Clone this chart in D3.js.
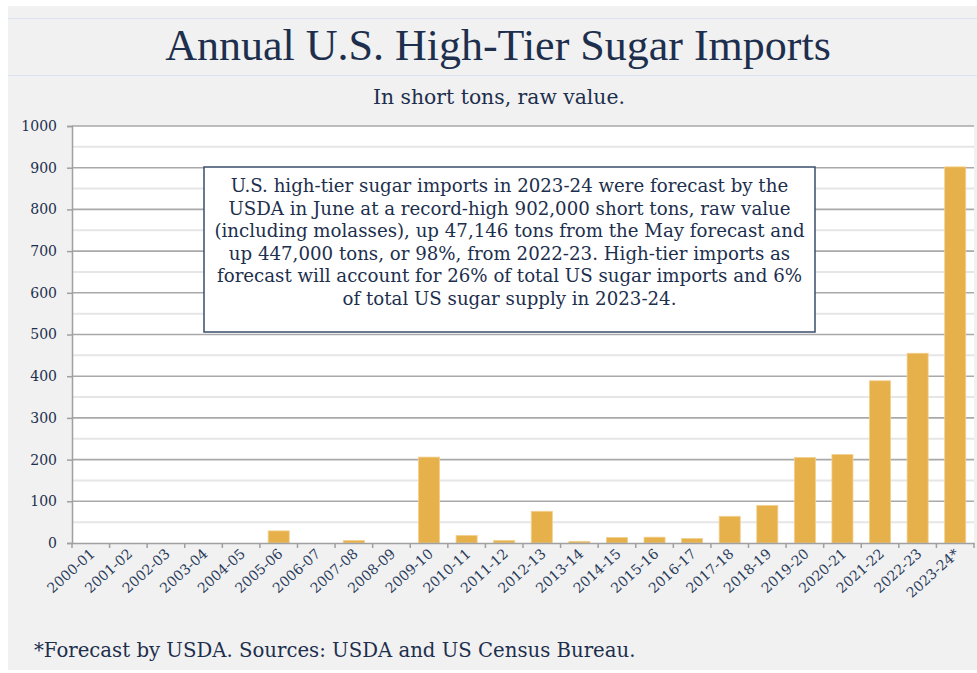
<!DOCTYPE html>
<html><head><meta charset="utf-8">
<script src="https://cdn.jsdelivr.net/npm/d3@7"></script>
<style>html,body{margin:0;padding:0;background:#fff;}svg{display:block;}</style>
</head><body>
<svg id="chart" width="977" height="673"></svg>
<script>
const categories = ["2000-01","2001-02","2002-03","2003-04","2004-05","2005-06","2006-07","2007-08","2008-09","2009-10","2010-11","2011-12","2012-13","2013-14","2014-15","2015-16","2016-17","2017-18","2018-19","2019-20","2020-21","2021-22","2022-23","2023-24*"];
const imports = [0,0,0,0,0,29,0,6,0,206,18,6,76,4,13,14,11,64,90,205,212,389,455,902];
const yTicks = [0,100,200,300,400,500,600,700,800,900,1000];
const titleText = "Annual U.S. High-Tier Sugar Imports";
const subtitleText = "In short tons, raw value.";
const noteLines = [
 "U.S. high-tier sugar imports in 2023-24 were forecast by the",
 "USDA in June at a record-high 902,000 short tons, raw value",
 "(including molasses), up 47,146 tons from the May forecast and",
 "up 447,000 tons, or 98%, from 2022-23. High-tier imports as",
 "forecast will account for 26% of total US sugar imports and 6%",
 "of total US sugar supply in 2023-24."
];
const footnote = "*Forecast by USDA. Sources: USDA and US Census Bureau.";

const svg = d3.select("#chart");
const navy = "#1d2f4d";
const serif = "'Liberation Serif',serif";
const wide = "'DejaVu Serif',serif";

function fit(sel, target){
  const w = sel.node().getComputedTextLength();
  const fs = parseFloat(sel.attr("font-size"));
  return fs*target/w;
}

svg.append("rect").attr("x",8).attr("y",6).attr("width",969).attr("height",664).attr("fill","#f1f1f1");
svg.append("line").attr("x1",8).attr("x2",977).attr("y1",18.5).attr("y2",18.5).attr("stroke","#dce3f0").attr("stroke-width",1);
svg.append("line").attr("x1",8).attr("x2",977).attr("y1",75.5).attr("y2",75.5).attr("stroke","#dce3f0").attr("stroke-width",1);

svg.append("text").attr("x",498).attr("y",60).attr("text-anchor","middle")
  .attr("font-family",serif).attr("font-size",44).attr("fill",navy).text(titleText);
const sub = svg.append("text").attr("x",499).attr("y",104).attr("text-anchor","middle")
  .attr("font-family",wide).attr("font-size",20).attr("fill",navy).text(subtitleText);
sub.attr("font-size",fit(sub,252));

const m = {left:72, right:974, top:126, bottom:543};
const x = d3.scaleBand().domain(categories).range([m.left,m.right]).paddingInner(0.44).paddingOuter(0.22);
const xt = d3.scaleBand().domain(categories).range([m.left,m.right]);
const y = d3.scaleLinear().domain([0,1000]).range([m.bottom,m.top]);

svg.append("rect").attr("x",m.left).attr("y",m.top).attr("width",m.right-m.left).attr("height",m.bottom-m.top).attr("fill","#fff");

const minor = d3.range(50,1000,100);
svg.append("g").selectAll("line").data(minor).join("line")
  .attr("x1",m.left).attr("x2",m.right).attr("y1",d=>y(d)).attr("y2",d=>y(d))
  .attr("stroke","#e6e6e6").attr("stroke-width",2);
svg.append("g").selectAll("line").data(yTicks.filter(d=>d>0)).join("line")
  .attr("x1",m.left).attr("x2",m.right).attr("y1",d=>y(d)).attr("y2",d=>y(d))
  .attr("stroke","#a9a9a9").attr("stroke-width",1.6);

svg.append("g").selectAll("rect").data(imports).join("rect")
  .attr("x",(d,i)=>x(categories[i])).attr("width",x.bandwidth())
  .attr("y",d=>y(d)).attr("height",d=>m.bottom-y(d))
  .attr("fill","#e6b04a").attr("stroke","#f2d08e").attr("stroke-width",0.8);

const box = svg.append("g");
box.append("rect").attr("x",204).attr("y",167).attr("width",611).attr("height",165)
  .attr("fill","#fff").attr("stroke","#3a4d6b").attr("stroke-width",1.5);
const nt = box.selectAll("text").data(noteLines).join("text")
  .attr("x",509.5).attr("y",(d,i)=>192+i*22.6).attr("text-anchor","middle")
  .attr("font-family",wide).attr("font-size",16).attr("fill",navy).text(d=>d);
const nfs = fit(d3.select(nt.nodes()[0]),558);
nt.attr("font-size",nfs);

const yAxis = svg.append("g").attr("transform",`translate(${m.left},0)`)
  .call(d3.axisLeft(y).tickValues(yTicks).tickSize(5).tickPadding(10).tickFormat(d3.format("d")));
yAxis.select(".domain").attr("stroke","#a0a0a0").attr("stroke-width",1.5);
yAxis.selectAll(".tick line").attr("stroke","#a0a0a0").attr("stroke-width",1.5);
yAxis.selectAll("text").attr("font-family",wide).attr("font-size",14).attr("fill",navy);

const xAxis = svg.append("g").attr("transform",`translate(0,${m.bottom})`)
  .call(d3.axisBottom(xt).tickSize(0).tickFormat(d=>d));
xAxis.select(".domain").attr("stroke","#a0a0a0").attr("stroke-width",1.5);
xAxis.selectAll(".tick line").remove();
svg.append("g").selectAll("line").data(d3.range(categories.length+1)).join("line")
  .attr("x1",i=>m.left+i*xt.step()).attr("x2",i=>m.left+i*xt.step())
  .attr("y1",m.bottom).attr("y2",m.bottom+5).attr("stroke","#a0a0a0").attr("stroke-width",1.5);
xAxis.selectAll(".tick text")
  .attr("font-family",wide).attr("font-size",14).attr("fill","#2a3c5c")
  .attr("text-anchor","end").attr("dy",0).attr("y",0)
  .attr("transform",`translate(5,12) rotate(-42)`);

const fn = svg.append("text").attr("x",34).attr("y",657).attr("font-family",wide).attr("font-size",20).attr("fill",navy).text(footnote);
fn.attr("font-size",fit(fn,602));
</script>
</body></html>
